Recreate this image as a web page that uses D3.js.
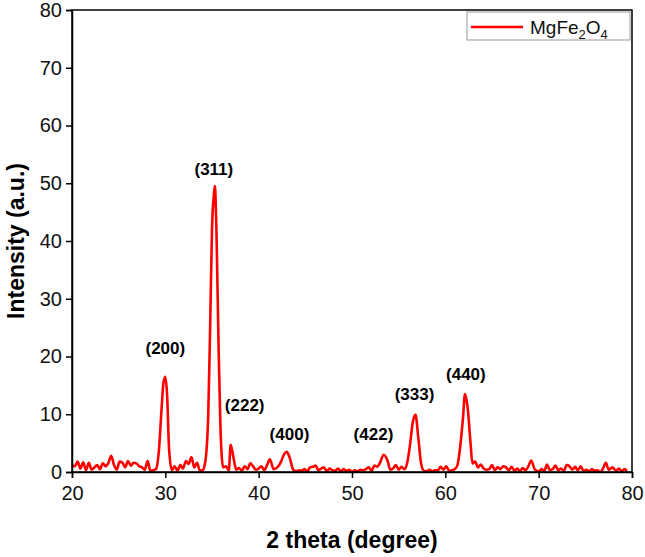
<!DOCTYPE html><html><head><meta charset="utf-8"><script src="https://cdn.jsdelivr.net/npm/d3@7"></script>
<style>body{margin:0;background:#fff}text{font-family:Arial,"Liberation Sans",sans-serif}</style></head><body><svg id="c" width="645" height="557"></svg>
<script>
const twoTheta=[20,20.3,20.6,20.9,21.2,21.5,21.8,22.1,22.4,22.7,23,23.3,23.6,23.9,24.2,24.5,24.8,25.1,25.4,25.7,26,26.3,26.6,26.9,27.2,27.5,27.8,28.1,28.4,28.7,29,29.3,29.6,29.8,30,30.2,30.4,30.7,31,31.3,31.6,31.9,32.2,32.5,32.8,33.1,33.4,33.7,34,34.3,34.6,34.8,35,35.2,35.3,35.5,35.7,35.9,36.2,36.5,36.8,37,37.3,37.6,37.9,38.2,38.5,38.8,39.1,39.4,39.7,40,40.3,40.6,40.9,41.2,41.6,42,42.4,42.7,43,43.3,43.7,44,44.3,44.6,44.9,45.2,45.5,45.8,46.1,46.4,46.7,47,47.3,47.6,47.9,48.2,48.5,48.8,49.1,49.4,49.7,50,50.3,50.6,50.9,51.2,51.5,51.8,52.1,52.4,52.7,53,53.4,53.8,54.1,54.4,54.7,55,55.3,55.6,55.9,56.2,56.5,56.8,57.1,57.4,57.7,58,58.3,58.6,58.9,59.2,59.5,59.8,60.1,60.4,60.7,61,61.3,61.6,61.9,62.1,62.4,62.7,62.9,63.2,63.5,63.8,64.1,64.4,64.7,65,65.3,65.6,65.9,66.2,66.5,66.8,67.1,67.4,67.7,68,68.3,68.6,68.9,69.2,69.6,70,70.3,70.6,70.9,71.2,71.5,71.8,72.1,72.4,72.7,73,73.3,73.6,73.9,74.2,74.5,74.8,75.1,75.4,75.7,76,76.3,76.6,76.9,77.2,77.5,77.9,78.3,78.6,78.9,79.2,79.5,79.8,80];
const intensity=[1.2,1.0,1.8,0.6,1.7,0.3,1.6,0.4,0.8,1.2,0.5,1.5,1.0,1.6,2.8,1.2,0.4,1.8,1.6,0.8,1.9,1.1,1.6,1.5,1.0,0.8,0.4,1.9,0.2,0.3,0.5,3.5,11,15.5,16.5,13,4,0.3,1.0,0.2,1.2,0.6,1.9,1.4,2.6,0.8,1.6,0.2,0.3,2.0,10,25,42,48,49.5,40,22,8,0.8,1.0,0.3,4.7,2.5,0.4,0.7,0.2,1.0,0.5,1.5,1.0,0.4,0.6,1.0,0.3,1.2,2.2,0.5,0.8,1.8,3.0,3.5,2.6,0.4,0.1,0.3,0.2,0.5,0.1,0.8,0.9,1.1,0.3,0.6,0.8,0.1,0.6,0.3,0.2,0.6,0.1,0.5,0.2,0.4,0.0,0.3,0.1,0.4,0.3,0.5,0.8,0.2,1.1,0.9,1.6,3.0,2.0,0.4,0.6,1.2,0.4,0.9,0.5,1.5,4.5,8.5,9.9,6.0,1.5,0.2,0.1,0.4,0.1,0.3,0.3,0.9,0.4,1.0,0.2,0.3,0.5,1.2,4.5,9.5,13.5,11,5,1.5,1.8,0.8,1.3,0.6,0.4,0.5,1.2,0.3,0.8,0.5,1.0,0.8,0.3,0.9,0.2,0.6,0.1,0.7,0.3,1.0,2.0,0.4,0.1,0.5,0.2,1.3,0.3,0.5,1.1,0.3,0.6,0.2,1.2,1.0,0.4,0.9,0.3,1.0,0.2,0.4,0.1,0.5,0.2,0.3,0.0,0.6,1.6,0.4,0.8,0.2,0.6,0.1,0.5,0.2];
const peakLabels=["(200)","(311)","(222)","(400)","(422)","(333)","(440)"];
const peakX=[30.0,35.2,38.5,43.3,52.3,56.7,62.2];
const peakY=[20.5,51.5,10.5,5.5,5.5,12.5,16];
const xTicks=[20,30,40,50,60,70,80];
const yTicks=[0,10,20,30,40,50,60,70,80];
const L=72,R=632,T=10,B=472;
const svg=d3.select("#c");
const x=d3.scaleLinear().domain([20,80]).range([L,R]);
const y=d3.scaleLinear().domain([0,80]).range([B,T]);
svg.append("path").datum(twoTheta.map((d,i)=>[d,intensity[i]]))
 .attr("d",d3.line().x(d=>x(d[0])).y(d=>y(d[1])).curve(d3.curveMonotoneX))
 .attr("fill","none").attr("stroke","#ff0000").attr("stroke-width",2.6).attr("stroke-linejoin","round");
svg.append("rect").attr("x",L).attr("y",T).attr("width",R-L).attr("height",B-T).attr("fill","none").attr("stroke","#000").attr("stroke-width",1.5);
const xa=svg.append("g").attr("transform",`translate(0,${B})`).call(d3.axisBottom(x).tickValues(xTicks).tickSize(6).tickPadding(8));
const ya=svg.append("g").attr("transform",`translate(${L},0)`).call(d3.axisLeft(y).tickValues(yTicks).tickSize(6).tickPadding(4));
[xa,ya].forEach(a=>{a.select(".domain").attr("stroke-width",1.5);a.selectAll("line").attr("stroke-width",1.5);a.selectAll("text").attr("font-size",20).attr("fill","#111")});
svg.selectAll(".pl").data(peakLabels).enter().append("text").attr("x",(d,i)=>x(peakX[i])).attr("y",(d,i)=>y(peakY[i]))
 .attr("text-anchor","middle").attr("font-weight","bold").attr("font-size",17).text(d=>d);
svg.append("text").attr("x",(L+R)/2).attr("y",548).attr("text-anchor","middle").attr("font-weight","bold").attr("font-size",23).text("2 theta (degree)");
svg.append("text").attr("transform",`translate(24,${(T+B)/2}) rotate(-90)`).attr("text-anchor","middle").attr("font-weight","bold").attr("font-size",23).text("Intensity (a.u.)");
const lg=svg.append("g");
lg.append("rect").attr("x",467).attr("y",12).attr("width",163).attr("height",28).attr("fill","#fff").attr("stroke","#999");
lg.append("line").attr("x1",471).attr("x2",523).attr("y1",27).attr("y2",27).attr("stroke","#ff0000").attr("stroke-width",2.6);
const lt=lg.append("text").attr("x",530).attr("y",34).attr("font-size",19).attr("fill","#111");
lt.append("tspan").text("MgFe");lt.append("tspan").attr("font-size",13).attr("dy",5).text("2");
lt.append("tspan").attr("dy",-5).text("O");lt.append("tspan").attr("font-size",13).attr("dy",5).text("4");
</script></body></html>
